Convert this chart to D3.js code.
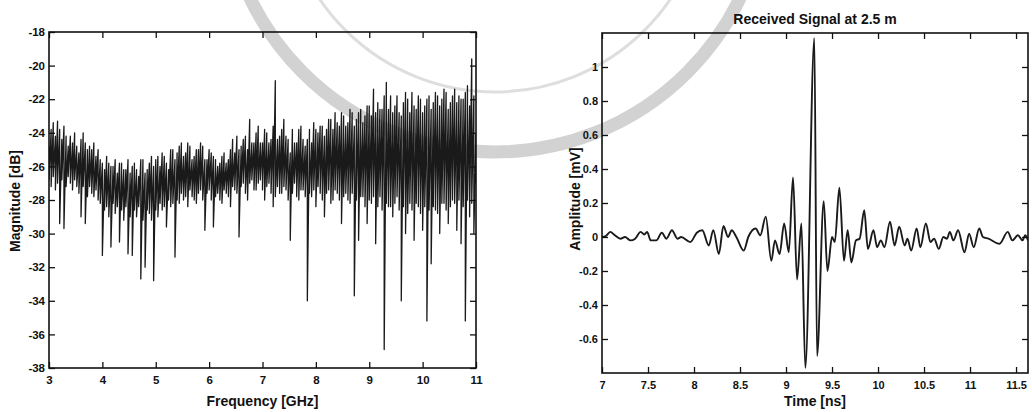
<!DOCTYPE html>
<html>
<head>
<meta charset="utf-8">
<script src="https://cdn.jsdelivr.net/npm/d3@7"></script>
<style>
  body { margin: 0; background: #fff; }
  text { font-family: "Liberation Sans", Arial, sans-serif; font-weight: bold; fill: #111; }
</style>
</head>
<body>
<svg id="chart" width="1032" height="412"></svg>
<script>
// ---------- Data: left panel (spectrum, upper and lower swing of each 0.04 GHz bin) ----------
const freqStart = 3;
const freqStep = 0.04; // GHz between bins
const magHigh = [
  -24.8, -23.8, -23.4, -24.2, -23.3, -23.8, -24.4, -23.6, -24.2, -24.8,
  -24.2, -24.6, -24.0, -24.8, -25.2, -24.4, -24.0, -24.6, -25.0, -24.8,
  -25.0, -24.6, -25.4, -25.0, -25.6, -25.8, -26.2, -25.4, -25.8, -26.0,
  -26.0, -25.6, -26.4, -25.8, -25.8, -26.2, -26.2, -25.6, -26.4, -26.0,
  -25.8, -26.2, -26.6, -25.6, -25.6, -26.4, -26.2, -25.8, -25.4, -26.0,
  -25.6, -25.4, -26.0, -25.2, -25.4, -25.8, -26.2, -25.0, -25.0, -25.6,
  -25.2, -24.8, -24.6, -25.4, -25.2, -24.6, -24.8, -25.6, -25.4, -25.0,
  -25.0, -24.6, -24.8, -25.6, -25.6, -25.0, -25.2, -25.4, -25.6, -26.0,
  -25.8, -25.4, -25.2, -25.8, -25.6, -25.0, -24.4, -25.2, -24.2, -25.0,
  -24.8, -24.4, -24.2, -25.0, -23.2, -24.6, -24.6, -24.0, -23.6, -24.6,
  -24.6, -23.8, -24.0, -24.6, -24.4, -23.6, -20.9, -24.4, -24.2, -23.8,
  -23.2, -24.2, -24.4, -25.2, -23.8, -24.6, -24.6, -23.8, -23.6, -24.4,
  -24.8, -24.4, -23.8, -24.6, -23.4, -23.8, -24.0, -23.6, -23.6, -24.2,
  -23.8, -23.2, -23.2, -23.8, -22.8, -23.4, -23.6, -22.8, -23.0, -23.6,
  -23.4, -22.6, -22.8, -23.6, -23.2, -22.8, -22.6, -23.4, -23.0, -22.4,
  -22.4, -23.0, -21.4, -22.8, -22.2, -22.6, -22.6, -21.8, -21.0, -22.6,
  -21.8, -22.8, -22.4, -21.8, -22.8, -23.0, -22.2, -21.6, -22.0, -22.8,
  -21.6, -22.4, -22.6, -21.8, -22.0, -22.8, -22.4, -22.0, -21.8, -22.6,
  -22.2, -21.6, -21.8, -22.4, -22.0, -21.4, -21.6, -22.6, -22.2, -21.8,
  -21.4, -22.2, -21.8, -22.0, -22.0, -21.6, -21.2, -22.4, -19.6, -21.8,
  -24.0
];
const magLow = [
  -26.8, -27.2, -26.6, -27.4, -27.0, -29.4, -26.8, -29.7, -27.2, -26.6,
  -27.0, -27.4, -26.8, -27.2, -27.6, -29.0, -27.2, -29.4, -27.8, -27.2,
  -27.6, -27.8, -27.4, -28.0, -28.2, -31.3, -28.6, -28.4, -29.0, -30.8,
  -28.2, -28.8, -28.4, -30.5, -28.6, -29.2, -28.4, -31.2, -29.0, -31.3,
  -28.6, -29.0, -28.4, -32.7, -29.2, -32.0, -28.6, -28.8, -29.2, -32.8,
  -28.6, -29.0, -28.2, -28.6, -28.4, -29.6, -28.0, -28.4, -28.2, -31.4,
  -28.0, -28.2, -27.6, -28.0, -27.8, -28.4, -27.4, -27.8, -28.0, -28.2,
  -27.6, -27.4, -28.0, -29.8, -27.6, -27.4, -28.0, -29.6, -27.8, -27.6,
  -28.0, -28.2, -27.4, -27.6, -27.8, -28.4, -27.2, -27.4, -27.6, -30.2,
  -27.2, -27.0, -27.6, -28.0, -27.0, -26.8, -27.4, -27.4, -27.0, -26.8,
  -27.4, -28.0, -27.2, -27.0, -27.6, -28.4, -27.8, -27.2, -27.6, -27.6,
  -27.2, -27.4, -28.0, -30.4, -27.6, -27.0, -27.8, -28.0, -27.4, -27.4,
  -27.8, -34.0, -27.6, -27.8, -27.4, -28.4, -27.2, -27.6, -28.0, -29.0,
  -27.6, -27.4, -28.2, -28.0, -27.4, -27.6, -28.0, -29.4, -27.8, -27.6,
  -28.0, -28.2, -27.6, -33.7, -28.0, -30.4, -27.8, -27.8, -28.4, -29.4,
  -28.0, -28.2, -27.8, -30.6, -28.4, -27.8, -28.6, -36.9, -28.2, -28.4,
  -28.4, -29.0, -28.2, -27.8, -28.6, -34.0, -28.4, -30.0, -28.8, -28.2,
  -28.6, -30.4, -28.2, -28.4, -28.8, -29.8, -28.4, -35.2, -28.6, -31.8,
  -28.4, -28.6, -28.8, -30.0, -28.2, -28.2, -28.6, -29.4, -28.4, -28.0,
  -28.2, -29.8, -28.0, -30.6, -28.4, -35.2, -28.0, -29.0, -28.2, -30.0,
  -27.0
];
const freqTicks = [3, 4, 5, 6, 7, 8, 9, 10, 11];
const magTicks = [-38, -36, -34, -32, -30, -28, -26, -24, -22, -20, -18];

// ---------- Data: right panel (time signal) ----------
const time = [
  7.00, 7.04, 7.09, 7.14, 7.20, 7.25, 7.31, 7.36, 7.42, 7.46,
  7.49, 7.53, 7.59, 7.65, 7.70, 7.76, 7.82, 7.86, 7.96, 8.03,
  8.09, 8.16, 8.21, 8.27, 8.32, 8.37, 8.41, 8.46, 8.54, 8.59,
  8.67, 8.72, 8.78, 8.84, 8.88, 8.93, 8.98, 9.03, 9.076, 9.12,
  9.167, 9.21, 9.308, 9.337, 9.41, 9.45, 9.50, 9.53, 9.58, 9.63,
  9.67, 9.71, 9.76, 9.80, 9.85, 9.89, 9.95, 9.99, 10.03, 10.07,
  10.13, 10.18, 10.23, 10.29, 10.32, 10.36, 10.42, 10.46, 10.52, 10.57,
  10.61, 10.66, 10.71, 10.75, 10.78, 10.82, 10.87, 10.94, 10.99, 11.04,
  11.10, 11.14, 11.20, 11.32, 11.41, 11.46, 11.52, 11.57, 11.60, 11.63
];
const amplitude = [
  0.00, 0.005, 0.03, 0.01, -0.01, 0.00, -0.02, -0.01, 0.03, 0.015,
  0.03, -0.02, -0.02, 0.025, -0.01, 0.04, -0.01, 0.00, -0.03, 0.025,
  0.04, -0.05, 0.04, -0.10, 0.065, 0.00, 0.04, 0.00, -0.08, 0.00,
  0.05, 0.01, 0.12, -0.14, -0.02, -0.10, 0.08, -0.09, 0.35, -0.25,
  0.08, -0.77, 1.17, -0.70, 0.21, -0.20, 0.00, -0.03, 0.29, -0.14,
  0.04, -0.15, -0.02, -0.01, 0.157, -0.07, 0.04, -0.06, -0.02, -0.06,
  0.09, -0.05, 0.06, -0.05, -0.01, -0.08, 0.05, -0.06, 0.08, -0.03,
  -0.01, -0.07, 0.00, -0.01, 0.03, -0.02, 0.04, -0.09, 0.02, -0.06,
  0.05, 0.00, -0.01, -0.04, 0.03, -0.02, 0.01, -0.02, 0.01, -0.02
];
const timeTicks = [7, 7.5, 8, 8.5, 9, 9.5, 10, 10.5, 11, 11.5];
const ampTicks = [-0.6, -0.4, -0.2, 0, 0.2, 0.4, 0.6, 0.8, 1];

// ---------- Drawing ----------
const svg = d3.select("#chart");
const fmt = d => String(d); // plain hyphen minus like the original

// faint watermark ring of the scanned page (background decoration)
const wm = svg.append("g").attr("fill", "none").attr("stroke", "#d2d2d2");
wm.append("circle").attr("cx", 495).attr("cy", -120).attr("r", 272).attr("stroke-width", 13);
wm.append("circle").attr("cx", 495).attr("cy", -120).attr("r", 212).attr("stroke-width", 3).attr("stroke", "#dedede");

function panel(cfg) {
  const g = svg.append("g");
  const x = d3.scaleLinear().domain(cfg.xDomain).range([cfg.x0, cfg.x1]);
  const y = d3.scaleLinear().domain(cfg.yDomain).range([cfg.y1, cfg.y0]);
  const tl = 6;

  const clipId = "clip" + cfg.id;
  svg.append("clipPath").attr("id", clipId)
    .append("rect").attr("x", cfg.x0).attr("y", cfg.y0)
    .attr("width", cfg.x1 - cfg.x0).attr("height", cfg.y1 - cfg.y0);

  // series
  g.append("path")
    .datum(cfg.data)
    .attr("clip-path", `url(#${clipId})`)
    .attr("fill", "none")
    .attr("stroke", "#1a1a1a")
    .attr("stroke-width", cfg.lineWidth)
    .attr("stroke-linejoin", "round")
    .attr("d", d3.line().x(d => x(d[0])).y(d => y(d[1])).curve(cfg.curve));

  const styleAxis = sel => {
    sel.select(".domain").remove();
    sel.selectAll(".tick line").attr("stroke", "#111").attr("stroke-width", 1.3);
    sel.selectAll(".tick text").attr("font-size", cfg.tickFont).attr("fill", "#111");
  };

  g.append("g").attr("transform", `translate(0,${cfg.y1})`)
    .call(d3.axisBottom(x).tickValues(cfg.xTicks).tickFormat(fmt).tickSize(-tl).tickSizeOuter(0).tickPadding(cfg.xPad))
    .call(styleAxis);
  g.append("g").attr("transform", `translate(0,${cfg.y0})`)
    .call(d3.axisTop(x).tickValues(cfg.xTicks).tickFormat("").tickSize(-tl).tickSizeOuter(0))
    .call(styleAxis);
  g.append("g").attr("transform", `translate(${cfg.x0},0)`)
    .call(d3.axisLeft(y).tickValues(cfg.yTicks).tickFormat(fmt).tickSize(-tl).tickSizeOuter(0).tickPadding(cfg.yPad))
    .call(styleAxis);
  g.append("g").attr("transform", `translate(${cfg.x1},0)`)
    .call(d3.axisRight(y).tickValues(cfg.yTicks).tickFormat("").tickSize(-tl).tickSizeOuter(0))
    .call(styleAxis);

  // frame
  g.append("rect")
    .attr("x", cfg.x0).attr("y", cfg.y0)
    .attr("width", cfg.x1 - cfg.x0).attr("height", cfg.y1 - cfg.y0)
    .attr("fill", "none").attr("stroke", "#111").attr("stroke-width", 1.6);

  // labels
  g.append("text")
    .attr("x", (cfg.x0 + cfg.x1) / 2).attr("y", cfg.xLabelY)
    .attr("text-anchor", "middle").attr("font-size", 14)
    .text(cfg.xLabel);
  g.append("text")
    .attr("transform", `translate(${cfg.yLabelX},${cfg.yLabelCY}) rotate(-90)`)
    .attr("text-anchor", "middle").attr("font-size", 14)
    .text(cfg.yLabel);
  if (cfg.title) {
    g.append("text")
      .attr("x", cfg.titleX).attr("y", cfg.titleY)
      .attr("text-anchor", "middle").attr("font-size", 14)
      .text(cfg.title);
  }
}

// spectrum drawn as the swing between the high and low value in each bin
const spectrum = [];
magHigh.forEach((h, i) => {
  const f = freqStart + i * freqStep;
  spectrum.push([f, h], [f, magLow[i]]);
});

panel({
  id: "L",
  x0: 49, x1: 476, y0: 32, y1: 368,
  xDomain: [3, 11], yDomain: [-38, -18],
  data: spectrum,
  curve: d3.curveLinear, lineWidth: 1.3,
  xTicks: freqTicks, yTicks: magTicks,
  tickFont: 11.5, xPad: 8, yPad: 4,
  xLabel: "Frequency [GHz]", xLabelY: 406,
  yLabel: "Magnitude [dB]", yLabelX: 20, yLabelCY: 201
});

panel({
  id: "R",
  x0: 602, x1: 1028, y0: 33, y1: 373,
  xDomain: [7, 11.63], yDomain: [-0.8, 1.2],
  data: time.map((t, i) => [t, amplitude[i]]),
  curve: d3.curveMonotoneX, lineWidth: 1.9,
  xTicks: timeTicks, yTicks: ampTicks,
  tickFont: 11, xPad: 8, yPad: 4,
  xLabel: "Time [ns]", xLabelY: 406,
  yLabel: "Amplitude [mV]", yLabelX: 580, yLabelCY: 199,
  title: "Received Signal at 2.5 m", titleX: 815, titleY: 24
});
</script>
</body>
</html>
